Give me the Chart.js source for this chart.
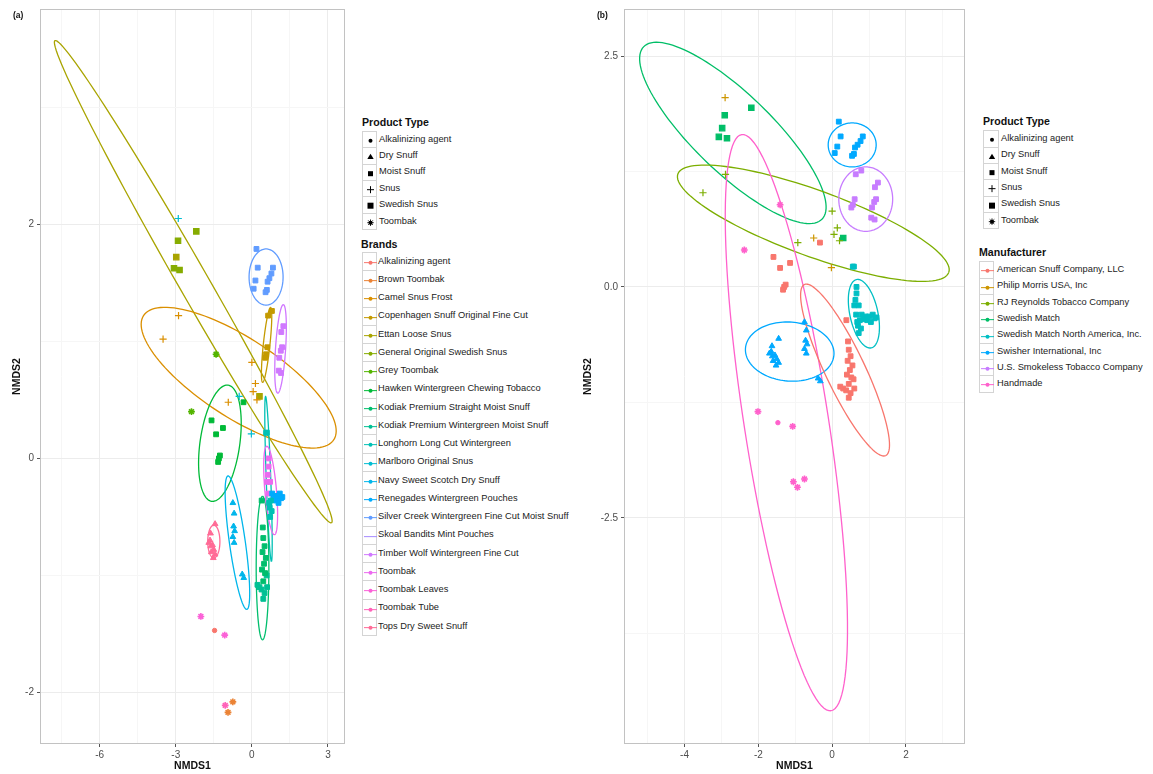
<!DOCTYPE html>
<html>
<head>
<meta charset="utf-8">
<script src="https://cdn.jsdelivr.net/npm/chart.js@4.4.1/dist/chart.umd.min.js"></script>
<style>
body { margin: 0; background: #fff; font-family: "Liberation Sans", Arial, sans-serif; }
#wrap { position: relative; width: 1153px; height: 774px; overflow: hidden; background: #fff; }
canvas { position: absolute; top: 0; }
.lbl { position: absolute; font-size: 9.3px; color: #222; white-space: nowrap; line-height: 11px; }
.ttl { position: absolute; font-size: 10.6px; font-weight: bold; color: #111; white-space: nowrap; line-height: 12px; }
.key { position: absolute; border: 1px solid #d4d4d4; box-sizing: border-box; background: #fff; }
.key svg { display: block; position: absolute; left: 0; top: 0; }
.panel { position: absolute; font-size: 8.5px; font-weight: bold; color: #111; }
</style>
</head>
<body>
<div id="wrap">
  <canvas id="chartA" width="350" height="774" style="left:0px;width:350px;height:774px"></canvas>
  <canvas id="chartB" width="400" height="774" style="left:570px;width:400px;height:774px"></canvas>
  <div class="panel" style="left:13px;top:10px">(a)</div>
  <div class="panel" style="left:597px;top:10px">(b)</div>
  <div id="legA"></div>
  <div id="legB"></div>
</div>
<script>
// categories
const productTypes = ['Alkalinizing agent', 'Dry Snuff', 'Moist Snuff', 'Snus', 'Swedish Snus', 'Toombak'];
const brands = ['Alkalinizing agent', 'Brown Toombak', 'Camel Snus Frost', 'Copenhagen Snuff Original Fine Cut',
  'Ettan Loose Snus', 'General Original Swedish Snus', 'Grey Toombak', 'Hawken Wintergreen Chewing Tobacco',
  'Kodiak Premium Straight Moist Snuff', 'Kodiak Premium Wintergreen Moist Snuff', 'Longhorn Long Cut Wintergreen',
  'Marlboro Original Snus', 'Navy Sweet Scotch Dry Snuff', 'Renegades Wintergreen Pouches',
  'Silver Creek Wintergreen Fine Cut Moist Snuff', 'Skoal Bandits Mint Pouches', 'Timber Wolf Wintergreen Fine Cut',
  'Toombak', 'Toombak Leaves', 'Toombak Tube', 'Tops Dry Sweet Snuff'];
const manufacturers = ['American Snuff Company, LLC', 'Philip Morris USA, Inc', 'RJ Reynolds Tobacco Company',
  'Swedish Match', 'Swedish Match North America, Inc.', 'Swisher International, Inc',
  'U.S. Smokeless Tobacco Company', 'Handmade'];

// sample groups: size, product type, brand, manufacturer
const groupSize    = [4, 2, 7, 3, 2, 7, 10, 5, 7, 8, 10, 10, 7, 7, 6, 9, 2, 1, 1, 2];
const groupProduct = [4, 4, 3, 3, 5, 2, 2, 2, 2, 1, 1, 2, 2, 2, 2, 2, 5, 0, 5, 5];
const groupBrand   = [5, 4, 2, 11, 6, 7, 14, 3, 16, 12, 20, 8, 9, 10, 17, 13, 18, 0, 19, 1];
const groupMaker   = [3, 3, 2, 1, 7, 0, 5, 6, 6, 5, 5, 0, 0, 4, 4, 4, 7, 7, 7, 7];

// NMDS scores, in group order
const nmds1 = [
  -2.91, -3.07, -2.85, -2.19,
  -2.98, 0.30,
  -2.89, -3.50, 0.00, 0.14, 0.05, 0.20, -0.93,
  -2.90, -0.50, -0.02,
  -1.41, -2.38,
  -1.59, -1.41, -1.14, -1.30, -1.26, -1.33, -0.33,
  0.18, 0.23, 0.14, 0.07, 0.83, 0.77, 0.69, 0.62, 0.59, 0.54,
  0.79, 0.64, 0.61, 0.56, 0.52,
  1.24, 1.16, 1.19, 1.14, 1.08, 1.06, 1.15,
  -0.75, -0.70, -0.72, -0.68, -0.75, -0.70, -0.38, -0.32,
  -1.45, -1.63, -1.70, -1.62, -1.55, -1.50, -1.60, -1.45, -1.52, -1.65,
  0.385, 0.43, 0.45, 0.50, 0.42, 0.55, 0.48, 0.40, 0.52, 0.45,
  0.58, 0.30, 0.38, 0.50, 0.45, 0.60, 0.22,
  0.59, 0.56, 0.70, 0.78, 0.72, 0.75, 0.68,
  0.66, 0.66, 0.63, 0.60, 0.72, 0.65,
  0.85, 0.90, 0.95, 1.00, 1.05, 1.10, 1.15, 1.20, 0.80,
  -2.01, -1.07,
  -1.47,
  -1.05,
  -0.94, -0.75
];
const nmds2 = [
  1.86, 1.625, 1.61, 1.94,
  1.72, 0.53,
  1.22, 1.02, 0.82, 0.64, 0.57, 0.50, 0.48,
  2.05, 0.53, 0.21,
  0.89, 0.40,
  0.325, 0.206, 0.26, 0.00, 0.025, -0.03, 0.48,
  1.79, 1.63, 1.52, 1.45, 1.63, 1.58, 1.54, 1.51, 1.44, 1.42,
  1.26, 1.22, 0.95, 0.89, 0.86,
  1.13, 1.08, 0.95, 0.92, 0.86, 0.75, 0.73,
  -0.38, -0.47, -0.58, -0.62, -0.67, -0.72, -0.99, -1.02,
  -0.56, -0.64, -0.72, -0.75, -0.74, -0.78, -0.80, -0.82, -0.85, -0.70,
  -0.36, -0.59, -0.68, -0.75, -0.80, -0.85, -0.90, -0.95, -0.98, -1.05,
  -1.00, -1.10, -1.12, -1.15, -1.20, -1.10, -1.08,
  0.22, 0.22, -0.42, -0.45, -0.50, -0.36, -0.38,
  0.00, -0.07, -0.14, -0.20, -0.20, -0.30,
  -0.35, -0.32, -0.36, -0.32, -0.38, -0.30, -0.34, -0.33, -0.30,
  -1.35, -1.51,
  -1.47,
  -2.11,
  -2.17, -2.08
];

// ellipses panel (a): brand, centre, semi-axis vectors (data units)
const aEllBrand = [4, 2, 7, 14, 3, 16, 20, 12, 10, 8, 17];
const aEllX = [-2.31, -0.52, -1.26, 0.56, 0.58, 1.13, -1.50, -0.57, 0.655, 0.42, 0.74];
const aEllY = [1.51, 0.69, 0.13, 1.55, 0.97, 0.936, -0.71, -0.72, -0.175, -0.937, -0.274];
const aEllMajor = [[5.45, -2.06], [3.75, -0.53], [0.325, 0.496], [0.67, 0], [0.157, 0.32], [0.11, 0.378],
  [0, 0.14], [0.372, -0.57], [0.115, -0.705], [0, 0.613], [0.149, -0.378]];
const aEllMinor = [[0.51, 0.064], [0.84, 0.284], [0.775, -0.024], [0, 0.24], [0.13, -0.003], [0.2, 0],
  [0.24, 0], [0.31, 0.01], [0.09, 0], [0.25, 0], [0.23, 0]];

// ellipses panel (b): manufacturer, centre, semi-axis vectors
const bEllMaker = [3, 2, 7, 5, 5, 6, 4, 0];
const bEllX = [-2.69, -0.51, -1.24, -1.15, 0.543, 0.91, 0.86, 0.35];
const bEllY = [1.668, 0.69, -1.47, -0.70, 1.538, 0.951, -0.29, -0.90];
const bEllMajor = [[2.42, -0.932], [3.67, -0.533], [1.211, -3.12], [1.2, -0.02], [0.65, 0], [0, 0.349],
  [0.2, -0.37], [1.103, -0.926]];
const bEllMinor = [[0.726, 0.309], [0.301, 0.336], [1.13, 0.0704], [0, 0.32], [0, 0.238], [0.73, 0],
  [0.371, 0.0325], [0.484, 0.0937]];

// ticks
const aXMajor = [-6, -3, 0, 3], aXMinor = [-7.5, -4.5, -1.5, 1.5];
const aYMajor = [-2, 0, 2], aYMinor = [-1, 1, 3];
const bXMajor = [-4, -2, 0, 2], bXMinor = [-5, -3, -1, 1, 3];
const bYMajor = [-2.5, 0, 2.5], bYMinor = [-3.75, -1.25, 1.25];

// ggplot hue palette (hcl, c=100, l=65)
function hcl(h, c, l) {
  const rad = h * Math.PI / 180;
  const U = c * Math.cos(rad), V = c * Math.sin(rad);
  const Xn = 95.047, Yn = 100, Zn = 108.883;
  const den = Xn + 15 * Yn + 3 * Zn;
  const un = 4 * Xn / den, vn = 9 * Yn / den;
  const Y = Yn * Math.pow((l + 16) / 116, 3);
  const u = U / (13 * l) + un, v = V / (13 * l) + vn;
  const X = 9 * Y * u / (4 * v);
  const Z = -X / 3 - 5 * Y + 3 * Y / v;
  const x = X / 100, y = Y / 100, z = Z / 100;
  const lin = [
    3.240479 * x - 1.537150 * y - 0.498535 * z,
    -0.969256 * x + 1.875992 * y + 0.041556 * z,
    0.055648 * x - 0.204043 * y + 1.057311 * z
  ];
  return '#' + lin.map(t => {
    t = t <= 0.0031308 ? 12.92 * t : 1.055 * Math.pow(t, 1 / 2.4) - 0.055;
    const k = Math.round(Math.min(1, Math.max(0, t)) * 255);
    return k.toString(16).padStart(2, '0');
  }).join('');
}
function huePal(n) {
  const out = [];
  for (let i = 0; i < n; i++) out.push(hcl((15 + i * 360 / n) % 360, 100, 65));
  return out;
}
const brandColors = huePal(brands.length);
const makerColors = huePal(manufacturers.length);

// expand groups to per-sample lists
const sampleProduct = [], sampleBrand = [], sampleMaker = [];
groupSize.forEach((n, g) => {
  for (let k = 0; k < n; k++) {
    sampleProduct.push(groupProduct[g]);
    sampleBrand.push(groupBrand[g]);
    sampleMaker.push(groupMaker[g]);
  }
});

const shapeStyle = ['circle', 'triangle', 'rect', 'cross', 'rect', 'star'];
const shapeRadius = [2.2, 3.3, 3.4, 3.6, 3.8, 3.4];
const shapeBorder = [1, 1, 1, 1.2, 1.2, 1.6];

function makeEllipsePlugin(ells) {
  return {
    id: 'ellipses',
    beforeDatasetsDraw(chart) {
      const { ctx, chartArea: a, scales: { x, y } } = chart;
      ctx.save();
      ctx.beginPath();
      ctx.rect(a.left, a.top, a.right - a.left, a.bottom - a.top);
      ctx.clip();
      ells.forEach(e => {
        ctx.beginPath();
        for (let i = 0; i <= 120; i++) {
          const t = i / 120 * Math.PI * 2;
          const vx = e.cx + e.major[0] * Math.cos(t) + e.minor[0] * Math.sin(t);
          const vy = e.cy + e.major[1] * Math.cos(t) + e.minor[1] * Math.sin(t);
          const px = x.getPixelForValue(vx), py = y.getPixelForValue(vy);
          if (i === 0) ctx.moveTo(px, py); else ctx.lineTo(px, py);
        }
        ctx.strokeStyle = e.color;
        ctx.lineWidth = 1.3;
        ctx.stroke();
      });
      ctx.restore();
    },
    afterDraw(chart) {
      const { ctx, chartArea: a } = chart;
      ctx.save();
      ctx.strokeStyle = '#c2c2c2';
      ctx.lineWidth = 1;
      ctx.strokeRect(a.left + 0.5, a.top + 0.5, a.right - a.left - 1, a.bottom - a.top - 1);
      ctx.restore();
    }
  };
}

function axisOptions(min, max, major, minor, fmt, isY, fixedSize) {
  const all = major.concat(minor).sort((p, q) => p - q);
  return {
    type: 'linear',
    min: min, max: max,
    afterBuildTicks: s => { s.ticks = all.map(v => ({ value: v })); },
    afterFit: s => { if (isY) s.width = fixedSize; else s.height = fixedSize; },
    ticks: {
      autoSkip: false, maxRotation: 0, padding: isY ? 3 : 2,
      color: '#4d4d4d',
      font: { family: 'Liberation Sans', size: 10 },
      callback: v => major.includes(v) ? fmt(v) : ''
    },
    grid: {
      drawTicks: true, tickLength: 3,
      color: c => (c.tick && major.includes(c.tick.value)) ? '#ececec' : '#f6f6f6',
      tickColor: c => (c.tick && major.includes(c.tick.value)) ? '#555' : 'rgba(0,0,0,0)'
    },
    border: { display: false },
    title: {
      display: true, text: isY ? 'NMDS2' : 'NMDS1', color: '#111',
      font: { family: 'Liberation Sans', size: 10.5, weight: 'bold' },
      padding: isY ? { top: 3, bottom: 0 } : { top: 0, bottom: 2 }
    }
  };
}

function buildDatasets(groupOf, colors, nGroups) {
  const sets = [];
  for (let g = 0; g < nGroups; g++) {
    const pts = [];
    nmds1.forEach((v, i) => { if (groupOf[i] === g) pts.push({ x: v, y: nmds2[i], s: i }); });
    if (!pts.length) continue;
    sets.push({
      data: pts,
      showLine: false,
      backgroundColor: colors[g],
      borderColor: colors[g],
      pointStyle: c => c.raw ? shapeStyle[sampleProduct[c.raw.s]] : 'circle',
      pointRadius: c => c.raw ? shapeRadius[sampleProduct[c.raw.s]] : 3,
      pointBorderWidth: c => c.raw ? shapeBorder[sampleProduct[c.raw.s]] : 1,
      pointHoverRadius: 0
    });
  }
  return sets;
}

function makeChart(id, cfg) {
  return new Chart(document.getElementById(id), {
    type: 'scatter',
    data: { datasets: cfg.datasets },
    options: {
      responsive: false,
      animation: false,
      devicePixelRatio: 1,
      layout: { padding: cfg.padding },
      plugins: { legend: { display: false }, tooltip: { enabled: false } },
      scales: {
        x: axisOptions(cfg.xMin, cfg.xMax, cfg.xMajor, cfg.xMinor, cfg.fmt, false, 30),
        y: axisOptions(cfg.yMin, cfg.yMax, cfg.yMajor, cfg.yMinor, cfg.fmt2, true, cfg.yWidth)
      }
    },
    plugins: [makeEllipsePlugin(cfg.ellipses)]
  });
}

const ellA = aEllBrand.map((b, i) => ({ cx: aEllX[i], cy: aEllY[i], major: aEllMajor[i], minor: aEllMinor[i], color: brandColors[b] }));
const ellB = bEllMaker.map((m, i) => ({ cx: bEllX[i], cy: bEllY[i], major: bEllMajor[i], minor: bEllMinor[i], color: makerColors[m] }));

makeChart('chartA', {
  datasets: buildDatasets(sampleBrand, brandColors, brands.length),
  ellipses: ellA,
  padding: { left: 8, top: 9, right: 3, bottom: 0 },
  yWidth: 32,
  xMin: -8.35, xMax: 3.67, yMin: -2.44, yMax: 3.84,
  xMajor: aXMajor, xMinor: aXMinor, yMajor: aYMajor, yMinor: aYMinor,
  fmt: v => String(v), fmt2: v => String(v)
});

makeChart('chartB', {
  datasets: buildDatasets(sampleMaker, makerColors, manufacturers.length),
  ellipses: ellB,
  padding: { left: 9, top: 9, right: 2, bottom: 0 },
  yWidth: 45,
  xMin: -5.64, xMax: 3.6, yMin: -4.95, yMax: 3.01,
  xMajor: bXMajor, xMinor: bXMinor, yMajor: bYMajor, yMinor: bYMinor,
  fmt: v => String(v), fmt2: v => v.toFixed(1)
});

// legends
function shapeSvg(t, col, w, h) {
  const cx = w / 2, cy = h / 2;
  let inner = '';
  if (t === 0) inner = `<circle cx="${cx}" cy="${cy}" r="2" fill="${col}"/>`;
  if (t === 1) inner = `<polygon points="${cx},${cy - 3} ${cx - 3.2},${cy + 2.3} ${cx + 3.2},${cy + 2.3}" fill="${col}"/>`;
  if (t === 2) inner = `<rect x="${cx - 2.5}" y="${cy - 2.5}" width="5" height="5" fill="${col}"/>`;
  if (t === 3) inner = `<path d="M${cx - 3.5} ${cy}H${cx + 3.5}M${cx} ${cy - 3.5}V${cy + 3.5}" stroke="${col}" stroke-width="1"/>`;
  if (t === 4) inner = `<rect x="${cx - 3}" y="${cy - 3}" width="6" height="6" fill="${col}"/>`;
  if (t === 5) inner = `<circle cx="${cx}" cy="${cy}" r="2" fill="${col}"/><path d="M${cx - 3.2} ${cy}H${cx + 3.2}M${cx} ${cy - 3.2}V${cy + 3.2}M${cx - 2.3} ${cy - 2.3}L${cx + 2.3} ${cy + 2.3}M${cx - 2.3} ${cy + 2.3}L${cx + 2.3} ${cy - 2.3}" stroke="${col}" stroke-width="0.9"/>`;
  return `<svg width="${w}" height="${h}">${inner}</svg>`;
}
function lineSvg(col, w, h) {
  const cy = h / 2;
  return `<svg width="${w}" height="${h}"><path d="M1 ${cy}H${w - 1}" stroke="${col}" stroke-width="1"/>` +
    `<circle cx="${w / 2}" cy="${cy}" r="2" fill="${col}"/></svg>`;
}
function addLegend(host, spec) {
  let html = `<div class="ttl" style="left:${spec.titleX}px;top:${spec.titleY - 6}px">${spec.title}</div>`;
  spec.items.forEach((name, i) => {
    const top = spec.firstY - spec.step / 2 + i * spec.step;
    html += `<div class="key" style="left:${spec.keyX}px;top:${top}px;width:${spec.keyW}px;height:${spec.step + 1}px">` +
      spec.symbol(i, spec.keyW, spec.step + 1) + '</div>';
    html += `<div class="lbl" style="left:${spec.textX}px;top:${spec.firstY + i * spec.step - 5.5}px">${name}</div>`;
  });
  host.insertAdjacentHTML('beforeend', html);
}
const legA = document.getElementById('legA');
addLegend(legA, { title: 'Product Type', titleX: 362, titleY: 122, items: productTypes, keyX: 362, keyW: 15,
  firstY: 139, step: 16.4, textX: 379, symbol: (i, w, h) => shapeSvg(i, '#000', w, h) });
addLegend(legA, { title: 'Brands', titleX: 361, titleY: 244, items: brands, keyX: 362, keyW: 15,
  firstY: 261, step: 18.25, textX: 378,
  symbol: (i, w, h) => i === 15 ? `<svg width="${w}" height="${h}"><path d="M1 ${h / 2}H${w - 1}" stroke="${brandColors[i]}" stroke-width="1"/></svg>` : lineSvg(brandColors[i], w, h) });
const legB = document.getElementById('legB');
addLegend(legB, { title: 'Product Type', titleX: 983, titleY: 121, items: productTypes, keyX: 983, keyW: 16,
  firstY: 138.5, step: 16.3, textX: 1001, symbol: (i, w, h) => shapeSvg(i, '#000', w, h) });
addLegend(legB, { title: 'Manufacturer', titleX: 979, titleY: 252, items: manufacturers, keyX: 979, keyW: 15,
  firstY: 269.5, step: 16.3, textX: 997, symbol: (i, w, h) => lineSvg(makerColors[i], w, h) });
</script>
</body>
</html>
